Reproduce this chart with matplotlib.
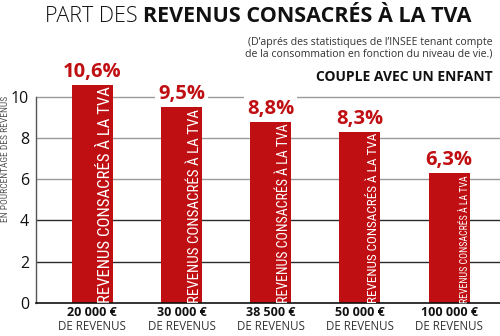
import matplotlib
matplotlib.use("Agg")
import matplotlib.pyplot as plt
from matplotlib.transforms import blended_transform_factory

# Data
incomes = ["20 000 €", "30 000 €", "38 500 €", "50 000 €", "100 000 €"]
vat_share = [10.6, 9.5, 8.8, 8.3, 6.3]
value_labels = ["10,6%", "9,5%", "8,8%", "8,3%", "6,3%"]
yticks = [0, 2, 4, 6, 8, 10]

RED = "#C00F12"
FONT = "Open Sans"
NARROW = ["Liberation Sans Narrow", "Roboto Condensed", "Open Sans"]

fig = plt.figure(figsize=(5, 3.36), dpi=100)
ax = fig.add_axes([36 / 500, 33.3 / 336, 464 / 500, (302.7 - 76.1) / 336])
ax.set_xlim(-0.63, 4.57)
ax.set_ylim(0, 11)

# Horizontal grid
grid_colors = {2: "#2b2b2b", 4: "#2b2b2b", 6: "#9a9a9a", 8: "#9a9a9a", 10: "#9a9a9a"}
for v, c in grid_colors.items():
    ax.axhline(v, color=c, lw=1.0, zorder=1)

x = list(range(len(incomes)))
bars = ax.bar(x, vat_share, width=0.46, color=RED, zorder=2)

for s in ["top", "right"]:
    ax.spines[s].set_visible(False)
ax.spines["left"].set_bounds(0, 10)
ax.spines["left"].set_color("#555555")
ax.spines["left"].set_linewidth(1.0)
ax.spines["bottom"].set_color("#111111")
ax.spines["bottom"].set_linewidth(1.2)
ax.set_yticks(yticks)
ax.set_yticklabels([str(t) for t in yticks], fontsize=11.5, family=FONT, color="#111111")
ax.tick_params(axis="y", length=0, pad=5)
ax.set_xticks([])

ax.set_ylabel("EN POURCENTAGE DES REVENUS", fontsize=6.8, family=NARROW,
              color="#555555")
ax.yaxis.set_label_coords(-26 / 464, (302.7 - 159) / (302.7 - 76.1))

# Value labels above bars
for xi, v, lab in zip(x, vat_share, value_labels):
    ax.annotate(lab, (xi, v), xytext=(0, 5.5), textcoords="offset points",
                ha="center", va="baseline", fontsize=14.5, fontweight="bold",
                family=FONT, color=RED, zorder=4,
                bbox=dict(boxstyle="square,pad=0.15", fc="white", ec="none"))

# Category labels under the axis
trans = blended_transform_factory(ax.transData, fig.transFigure)
for xi, inc in zip(x, incomes):
    ax.text(xi, 1 - 313 / 336, inc, transform=trans, ha="center", va="center",
            fontsize=9, fontweight="bold", family=FONT, color="#111111")
    ax.text(xi, 1 - 327 / 336, "DE REVENUS", transform=trans, ha="center",
            va="center", fontsize=8.3, family=FONT, color="#333333")

# Vertical caption inside each bar, sized to the bar height
fig.canvas.draw()
renderer = fig.canvas.get_renderer()
caption = "REVENUS CONSACRÉS À LA TVA"
for b, v in zip(bars, vat_share):
    right = b.get_x() + b.get_width()
    t = ax.text(right, 0, caption, rotation=90, rotation_mode="anchor",
                ha="left", va="bottom", fontsize=10, family=NARROW,
                color="white", zorder=3)
    ext = t.get_window_extent(renderer)
    y0 = ax.transData.transform((0, 0))[1]
    y1 = ax.transData.transform((0, v))[1]
    t.set_fontsize(10 * (y1 - y0 - 2) / ext.height)

# Title
title_y = 1 - 16 / 336
t1 = fig.text(0, title_y, "PART DES ", fontsize=15.5, fontweight="light",
              family=FONT, color="#111111", va="center", ha="left")
t2 = fig.text(0, title_y, "REVENUS CONSACRÉS À LA TVA", fontsize=15.5,
              fontweight="bold", family=FONT, color="#111111", va="center", ha="left")
fig.canvas.draw()
w1 = t1.get_window_extent(renderer).width
w2 = t2.get_window_extent(renderer).width
start = 258 - (w1 + w2) / 2
t1.set_x(start / 500)
t2.set_x((start + w1) / 500)

fig.text(492 / 500, 1 - 48.5 / 336,
         "(D’aprés des statistiques de l’INSEE tenant compte\n"
         "de la consommation en fonction du niveau de vie.)",
         ha="right", va="center", fontsize=7.6, family=FONT, color="#333333",
         linespacing=1.05)
fig.text(493 / 500, 1 - 77 / 336, "COUPLE AVEC UN ENFANT", ha="right",
         va="center", fontsize=10, fontweight="bold", family=FONT, color="#111111")

fig.savefig("out.png", dpi=100, facecolor="white")
